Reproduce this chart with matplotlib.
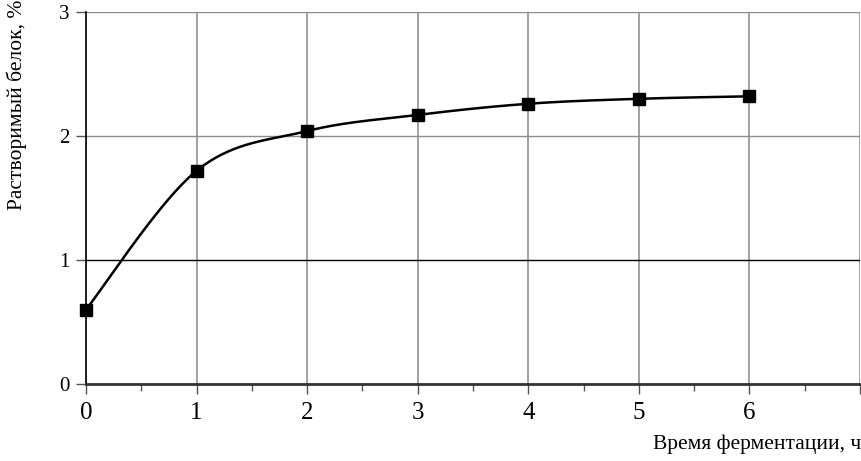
import numpy as np
import matplotlib
matplotlib.use("Agg")
import matplotlib.pyplot as plt
from matplotlib.ticker import MultipleLocator

hours = [0, 1, 2, 3, 4, 5, 6]
protein = [0.60, 1.72, 2.04, 2.17, 2.26, 2.30, 2.32]
x_ticks = [0, 1, 2, 3, 4, 5, 6]
y_ticks = [0, 1, 2, 3]

plt.rcParams['font.family'] = ['Liberation Serif', 'DejaVu Serif']

fig = plt.figure(figsize=(8.62, 4.61), dpi=100)
ax = fig.add_axes([0.0998, 0.167, 0.8979, 0.807])


def smooth(xs, ys, n=40):
    xs = np.asarray(xs, float); ys = np.asarray(ys, float)
    px, py = [], []
    m = len(xs)
    for i in range(m - 1):
        p0 = (xs[max(i - 1, 0)], ys[max(i - 1, 0)])
        p1 = (xs[i], ys[i])
        p2 = (xs[i + 1], ys[i + 1])
        p3 = (xs[min(i + 2, m - 1)], ys[min(i + 2, m - 1)])
        c1 = (p1[0] + (p2[0] - p0[0]) / 6, p1[1] + (p2[1] - p0[1]) / 6)
        c2 = (p2[0] - (p3[0] - p1[0]) / 6, p2[1] - (p3[1] - p1[1]) / 6)
        t = np.linspace(0, 1, n)
        b0 = (1 - t) ** 3; b1 = 3 * (1 - t) ** 2 * t; b2 = 3 * (1 - t) * t ** 2; b3 = t ** 3
        px.extend(b0 * p1[0] + b1 * c1[0] + b2 * c2[0] + b3 * p2[0])
        py.extend(b0 * p1[1] + b1 * c1[1] + b2 * c2[1] + b3 * p2[1])
    return np.array(px), np.array(py)

sx, sy = smooth(hours, protein)
ax.plot(sx, sy, color='black', lw=1.8, zorder=3)
ax.plot(hours, protein, linestyle='none', marker='s', ms=9, color='black', zorder=4, clip_on=False)

ax.set_xlim(0, 7)
ax.set_ylim(0, 3)
ax.set_yticks(y_ticks)
ax.xaxis.set_minor_locator(MultipleLocator(0.5))
ax.set_xticks(list(range(0, 8)))
ax.set_xticklabels([str(v) for v in x_ticks] + [''])
ax.grid(True, which='major', axis='x', color='#9a9a9a', lw=1.3)
ax.grid(True, which='major', axis='y', color='#8c8c8c', lw=1.0)
for val, gl in zip(ax.get_yticks(), ax.yaxis.get_gridlines()):
    if abs(val - 1) < 1e-9:
        gl.set_color('black')
ax.tick_params(axis='both', which='major', length=7, width=1, direction='out', color='#555555')
ax.tick_params(axis='x', which='major', labelsize=18, pad=6)
ax.tick_params(axis='y', which='major', labelsize=15, pad=5)
ax.tick_params(axis='x', which='minor', length=5, width=1, color='#555555')

for s in ['top', 'right']:
    ax.spines[s].set_visible(False)
ax.spines['bottom'].set_color('#333333')
ax.spines['bottom'].set_linewidth(2)
ax.spines['left'].set_color('black')
ax.spines['left'].set_linewidth(1.2)

fig.text(0.008, 1.0, 'Растворимый белок, %', rotation=90, ha='left', va='top', fontsize=15.5)
fig.text(0.999, 0.015, 'Время ферментации, ч', ha='right', va='bottom', fontsize=15.5)

fig.savefig('out.png', dpi=100)
